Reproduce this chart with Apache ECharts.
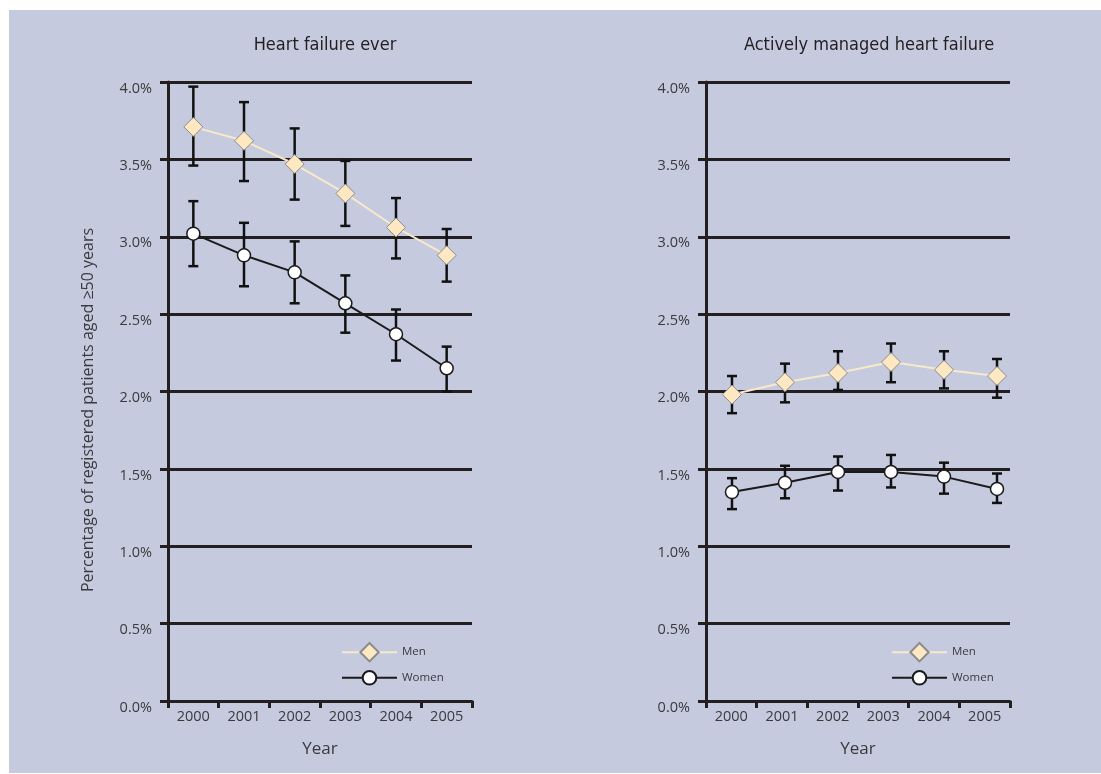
<!DOCTYPE html>
<html>
<head>
<meta charset="utf-8">
<script src="https://cdn.jsdelivr.net/npm/echarts@6/dist/echarts.min.js"></script>
<style>
  html, body { margin: 0; padding: 0; background: #ffffff; }
  #chart { width: 1101px; height: 774px; }
</style>
</head>
<body>
<div id="chart"></div>
<script>
// Years on the category axes
const years = ['2000', '2001', '2002', '2003', '2004', '2005'];
// Y-axis ticks (percent)
const yTicks = [0, 0.5, 1, 1.5, 2, 2.5, 3, 3.5, 4];

// Heart failure ever: point estimates and 95% CI bounds (%)
const everMen = [3.71, 3.62, 3.47, 3.28, 3.06, 2.88];
const everMenLow = [3.46, 3.36, 3.24, 3.07, 2.86, 2.71];
const everMenHigh = [3.97, 3.87, 3.70, 3.49, 3.25, 3.05];
const everWomen = [3.02, 2.88, 2.77, 2.57, 2.37, 2.15];
const everWomenLow = [2.81, 2.68, 2.57, 2.38, 2.20, 2.00];
const everWomenHigh = [3.23, 3.09, 2.97, 2.75, 2.53, 2.29];

// Actively managed heart failure: point estimates and 95% CI bounds (%)
const activeMen = [1.98, 2.06, 2.12, 2.19, 2.14, 2.10];
const activeMenLow = [1.86, 1.93, 2.01, 2.06, 2.02, 1.96];
const activeMenHigh = [2.10, 2.18, 2.26, 2.31, 2.26, 2.21];
const activeWomen = [1.35, 1.41, 1.48, 1.48, 1.45, 1.37];
const activeWomenLow = [1.24, 1.31, 1.36, 1.38, 1.34, 1.28];
const activeWomenHigh = [1.44, 1.52, 1.58, 1.59, 1.54, 1.47];

const INK = '#231f20';
const TEXT = '#3a3a3c';
const MEN_LINE = '#f7e9c9';
const MEN_FILL = '#fde8c2';
const FONT = '"Open Sans", "Noto Sans", sans-serif';
const NARROW = '"Liberation Sans Narrow", "DejaVu Sans Condensed", sans-serif';

const chart = echarts.init(document.getElementById('chart'), null, { renderer: 'canvas' });

function ciData(low, high) {
  return low.map((l, i) => [i, l, high[i]]);
}

function errorBars(name, xIdx, yIdx, low, high) {
  return {
    type: 'custom',
    name: name,
    xAxisIndex: xIdx,
    yAxisIndex: yIdx,
    z: 2,
    silent: true,
    encode: { x: 0, y: [1, 2] },
    data: ciData(low, high),
    renderItem: function (params, api) {
      const x = api.value(0);
      const lo = api.coord([x, api.value(1)]);
      const hi = api.coord([x, api.value(2)]);
      const half = 5;
      const st = { stroke: '#111111', lineWidth: 2.5 };
      return {
        type: 'group',
        children: [
          { type: 'line', shape: { x1: lo[0], y1: lo[1], x2: hi[0], y2: hi[1] }, style: st },
          { type: 'line', shape: { x1: hi[0] - half, y1: hi[1], x2: hi[0] + half, y2: hi[1] }, style: st },
          { type: 'line', shape: { x1: lo[0] - half, y1: lo[1], x2: lo[0] + half, y2: lo[1] }, style: st }
        ]
      };
    }
  };
}

function menSeries(xIdx, yIdx, data) {
  return {
    type: 'line', name: 'Men', xAxisIndex: xIdx, yAxisIndex: yIdx, z: 3,
    data: data,
    symbol: 'diamond', symbolSize: 19,
    lineStyle: { color: MEN_LINE, width: 2 },
    itemStyle: { color: MEN_FILL, borderColor: '#8c8c8c', borderWidth: 1 },
    emphasis: { disabled: true }
  };
}

function womenSeries(xIdx, yIdx, data) {
  return {
    type: 'line', name: 'Women', xAxisIndex: xIdx, yAxisIndex: yIdx, z: 3,
    data: data,
    symbol: 'circle', symbolSize: 13,
    lineStyle: { color: '#1a1a1a', width: 2 },
    itemStyle: { color: '#ffffff', borderColor: '#1a1a1a', borderWidth: 1.5 },
    emphasis: { disabled: true }
  };
}

function catAxis(gridIndex) {
  return {
    type: 'category', gridIndex: gridIndex, data: years, boundaryGap: true,
    name: 'Year', nameLocation: 'middle', nameGap: 40,
    nameTextStyle: { fontFamily: FONT, fontSize: 17, color: TEXT },
    axisLine: { show: true, onZero: false, lineStyle: { color: INK, width: 3 } },
    axisTick: { show: true, length: 7, interval: 0, lineStyle: { color: INK, width: 3 } },
    axisLabel: { margin: 8, fontFamily: FONT, fontSize: 14.5, color: TEXT, interval: 0 },
    splitLine: { show: false }
  };
}

function valAxis(gridIndex) {
  return {
    type: 'value', gridIndex: gridIndex, min: yTicks[0], max: yTicks[yTicks.length - 1], interval: 0.5,
    axisLine: { show: true, onZero: false, lineStyle: { color: INK, width: 3 } },
    axisTick: { show: true, length: 8, lineStyle: { color: INK, width: 3 } },
    axisLabel: {
      margin: 16, fontFamily: FONT, fontSize: 14.5, color: TEXT,
      verticalAlign: 'top', lineHeight: 13,
      formatter: v => v.toFixed(1) + '%'
    },
    splitLine: { show: true, lineStyle: { color: INK, width: 3 } }
  };
}

function legendItem(name, left, top, h) {
  return {
    data: [name], left: left, top: top, orient: 'vertical',
    padding: 0,
    itemWidth: 55, itemHeight: h, itemGap: 0,
    selectedMode: false,
    textStyle: { fontFamily: FONT, fontSize: 11.5, color: TEXT }
  };
}

const option = {
  backgroundColor: '#ffffff',
  animation: false,
  graphic: [
    { type: 'rect', z: -10, silent: true, shape: { x: 9, y: 10, width: 1092, height: 763 }, style: { fill: '#c5cadf' } },
    {
      type: 'text', x: 88, y: 410, rotation: Math.PI / 2, silent: true,
      style: {
        text: 'Percentage of registered patients aged \u226550 years',
        fontFamily: FONT, fontSize: 16, fill: TEXT, align: 'center', verticalAlign: 'middle'
      }
    }
  ],
  title: [
    { text: 'Heart failure ever', left: 320, top: 31, textAlign: 'center',
      textStyle: { fontFamily: NARROW, fontSize: 18, fontWeight: 'normal', color: INK } },
    { text: 'Actively managed heart failure', left: 864, top: 31, textAlign: 'center',
      textStyle: { fontFamily: NARROW, fontSize: 18, fontWeight: 'normal', color: INK } }
  ],
  legend: [
    legendItem('Men', 341, 642, 23),
    legendItem('Women', 341, 670, 17),
    legendItem('Men', 891, 642, 23),
    legendItem('Women', 891, 670, 17)
  ],
  grid: [
    { left: 168, right: 629, top: 82, bottom: 73 },
    { left: 706, right: 91, top: 82, bottom: 73 }
  ],
  xAxis: [
    catAxis(0),
    catAxis(1),
    // positioning scale for the right-hand panel's markers
    { type: 'value', gridIndex: 1, min: -0.49, max: 5.245, show: false }
  ],
  yAxis: [valAxis(0), valAxis(1)],
  series: [
    errorBars('Men CI', 0, 0, everMenLow, everMenHigh),
    errorBars('Women CI', 0, 0, everWomenLow, everWomenHigh),
    menSeries(0, 0, everMen),
    womenSeries(0, 0, everWomen),
    errorBars('Men CI', 2, 1, activeMenLow, activeMenHigh),
    errorBars('Women CI', 2, 1, activeWomenLow, activeWomenHigh),
    menSeries(2, 1, activeMen.map((v, i) => [i, v])),
    womenSeries(2, 1, activeWomen.map((v, i) => [i, v]))
  ]
};

chart.setOption(option);
</script>
</body>
</html>
